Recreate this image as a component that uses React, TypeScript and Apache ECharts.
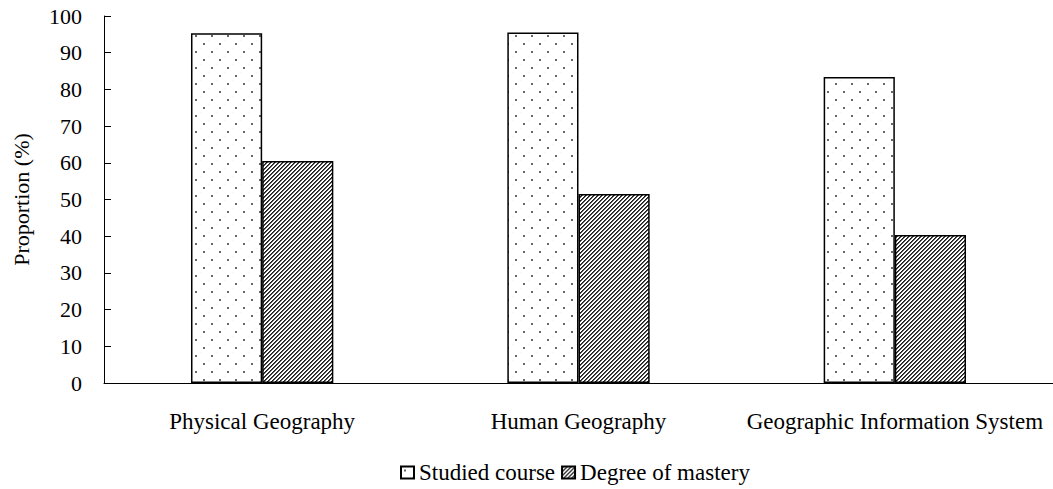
import React, { useEffect, useRef } from "react";
import * as echarts from "echarts";

const categories = ["Physical Geography", "Human Geography", "Geographic Information System"];
const studiedCourse = [95.3, 95.5, 83.4];
const degreeOfMastery = [60.5, 51.5, 40.3];
const seriesNames = ["Studied course", "Degree of mastery"];

function makeDots(): string {
  const c = document.createElement("canvas");
  c.width = 16;
  c.height = 16;
  const ctx = c.getContext("2d")!;
  ctx.fillStyle = "#ffffff";
  ctx.fillRect(0, 0, 16, 16);
  ctx.fillStyle = "#f2f2f2";
  ctx.fillRect(8, 0, 1, 1);
  ctx.fillRect(0, 8, 1, 1);
  ctx.fillStyle = "#333333";
  ctx.beginPath();
  ctx.arc(4, 4, 1, 0, Math.PI * 2);
  ctx.fill();
  ctx.beginPath();
  ctx.arc(12, 12, 1, 0, Math.PI * 2);
  ctx.fill();
  return c.toDataURL();
}

function makeHatch(): string {
  const c = document.createElement("canvas");
  c.width = 4;
  c.height = 4;
  const ctx = c.getContext("2d")!;
  for (let x = 0; x < 4; x++) {
    for (let y = 0; y < 4; y++) {
      const k = (x + y) % 4;
      ctx.fillStyle = k === 0 ? "#1a1a1a" : k === 1 ? "#555555" : "#ffffff";
      ctx.fillRect(x, y, 1, 1);
    }
  }
  return c.toDataURL();
}

export default function App() {
  const ref = useRef<HTMLDivElement>(null);
  useEffect(() => {
    if (!ref.current) return;
    const chart = echarts.init(ref.current, undefined, { renderer: "svg" });
    const dots = { image: makeDots(), repeat: "repeat", imageWidth: 16, imageHeight: 16 };
    const hatch = { image: makeHatch(), repeat: "repeat", imageWidth: 4, imageHeight: 4 };
    const font = "'Liberation Serif', 'Times New Roman', serif";
    chart.setOption({
      animation: false,
      backgroundColor: "#ffffff",
      textStyle: { fontFamily: font, color: "#000" },
      grid: { left: 104, right: 0, top: 16, bottom: 106, containLabel: false },
      legend: {
        left: 395,
        top: 456,
        icon: "rect",
        itemWidth: 13,
        itemHeight: 12,
        itemGap: 6,
        textStyle: { fontFamily: font, fontSize: 23, color: "#000" },
        data: seriesNames,
      },
      xAxis: {
        type: "category",
        data: categories,
        axisLine: { lineStyle: { color: "#000", width: 1 } },
        axisTick: { inside: true, length: 7, lineStyle: { color: "#000" } },
        axisLabel: { interval: 0, margin: 27, fontSize: 23, color: "#000", fontFamily: font },
        splitLine: { show: false },
      },
      yAxis: {
        type: "value",
        min: 0,
        max: 100,
        interval: 10,
        name: "Proportion (%)",
        nameLocation: "middle",
        nameRotate: 90,
        nameGap: 72,
        nameTextStyle: { fontSize: 22, color: "#000", fontFamily: font },
        axisLine: { show: true, lineStyle: { color: "#000", width: 1 } },
        axisTick: { show: true, inside: true, length: 7, lineStyle: { color: "#000" } },
        axisLabel: { margin: 22, fontSize: 22, color: "#000", fontFamily: font },
        splitLine: { show: false },
      },
      series: [
        {
          name: seriesNames[0],
          type: "bar",
          data: studiedCourse,
          barGap: "0%",
          barCategoryGap: "55%",
          itemStyle: { color: dots, borderColor: "#000", borderWidth: 1.5 },
        },
        {
          name: seriesNames[1],
          type: "bar",
          data: degreeOfMastery,
          barGap: "0%",
          barCategoryGap: "55%",
          itemStyle: { color: hatch, borderColor: "#000", borderWidth: 1.5 },
        },
      ],
    });
    return () => chart.dispose();
  }, []);
  return (
    <div
      ref={ref}
      style={{ position: "fixed", left: 0, top: 0, width: 1053, height: 489, background: "#fff" }}
    />
  );
}
